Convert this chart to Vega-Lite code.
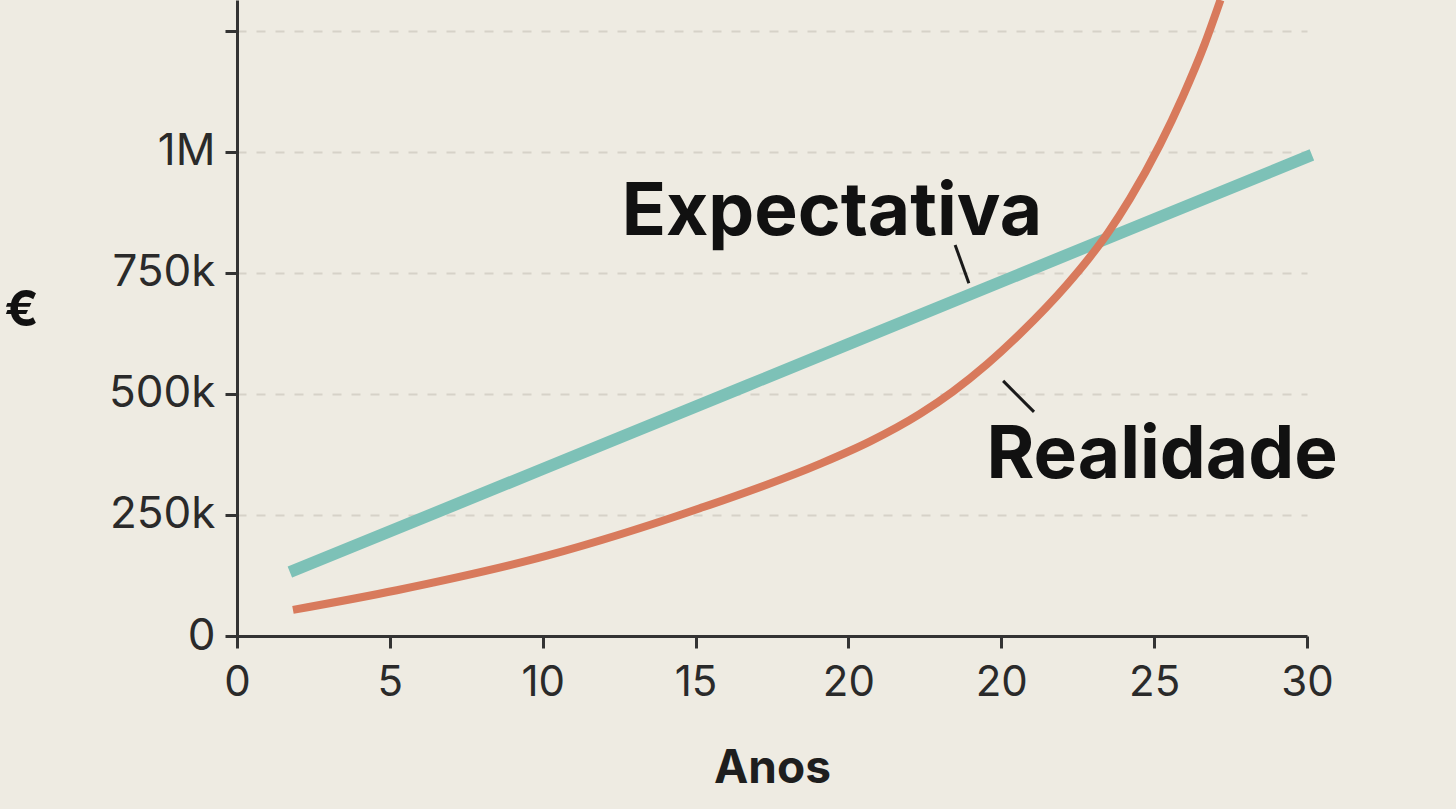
{
  "$schema": "https://vega.github.io/schema/vega-lite/v6.json",
  "width": 1070,
  "height": 636,
  "autosize": "none",
  "padding": {"left": 237, "top": 0, "right": 149, "bottom": 173},
  "background": "#eeebe2",
  "config": {"view": {"stroke": null}, "font": "Inter"},
  "datasets": {
    "linhas": [
      {"serie": "Expectativa", "ano": 1.73, "valor": 132000},
      {"serie": "Expectativa", "ano": 10, "valor": 345000},
      {"serie": "Expectativa", "ano": 20, "valor": 603000},
      {"serie": "Expectativa", "ano": 30, "valor": 861000},
      {"serie": "Expectativa", "ano": 35.16, "valor": 994000},
      {"serie": "Realidade", "ano": 1.83, "valor": 54000},
      {"serie": "Realidade", "ano": 5.23, "valor": 94600},
      {"serie": "Realidade", "ano": 10.14, "valor": 165900},
      {"serie": "Realidade", "ano": 15.14, "valor": 263800},
      {"serie": "Realidade", "ano": 19.07, "valor": 355600},
      {"serie": "Realidade", "ano": 20.71, "valor": 402100},
      {"serie": "Realidade", "ano": 22.34, "valor": 458900},
      {"serie": "Realidade", "ano": 23.42, "valor": 505200},
      {"serie": "Realidade", "ano": 24.53, "valor": 561400},
      {"serie": "Realidade", "ano": 25.61, "valor": 624200},
      {"serie": "Realidade", "ano": 27.15, "valor": 726000},
      {"serie": "Realidade", "ano": 27.9, "valor": 783100},
      {"serie": "Realidade", "ano": 28.49, "valor": 833300},
      {"serie": "Realidade", "ano": 29.21, "valor": 903700},
      {"serie": "Realidade", "ano": 30.19, "valor": 1015300},
      {"serie": "Realidade", "ano": 30.94, "valor": 1115100},
      {"serie": "Realidade", "ano": 31.66, "valor": 1224200},
      {"serie": "Realidade", "ano": 32.17, "valor": 1314000}
    ],
    "rotulos": [
      {"texto": "Expectativa", "ano": 19.46, "valor": 828000},
      {"texto": "Realidade", "ano": 30.26, "valor": 326000}
    ],
    "guias": [
      {"texto": "Expectativa", "ano": 23.49, "valor": 808000, "ano2": 23.94, "valor2": 729000},
      {"texto": "Realidade", "ano": 25.06, "valor": 527000, "ano2": 26.07, "valor2": 463000}
    ]
  },
  "encoding": {
    "x": {
      "field": "ano",
      "type": "quantitative",
      "scale": {"domain": [0, 35], "nice": false},
      "axis": {
        "values": [0, 5, 10, 15, 20, 25, 30, 35],
        "labelExpr": "datum.value == 25 ? '20' : datum.value == 30 ? '25' : datum.value == 35 ? '30' : datum.label",
        "title": "Anos",
        "titleFontSize": 46,
        "titleFontWeight": "bold",
        "titleColor": "#1e1e1e",
        "titleY": 132,
        "titleBaseline": "middle",
        "labelFontSize": 42,
        "labelColor": "#2a2a2a",
        "labelPadding": 14,
        "labelFlush": false,
        "tickSize": 12,
        "tickWidth": 3,
        "tickColor": "#333333",
        "domainColor": "#333333",
        "domainWidth": 3,
        "grid": false
      }
    },
    "y": {
      "field": "valor",
      "type": "quantitative",
      "scale": {"domain": [0, 1314000], "nice": false},
      "axis": {
        "values": [0, 250000, 500000, 750000, 1000000, 1250000],
        "labelExpr": "datum.value == 0 ? '0' : datum.value >= 1250000 ? '' : datum.value >= 1000000 ? '1M' : (datum.value / 1000) + 'k'",
        "title": "€",
        "titleAngle": 0,
        "titleX": -216,
        "titleY": 310,
        "titleAlign": "center",
        "titleBaseline": "middle",
        "titleFontSize": 50,
        "titleFontWeight": "bold",
        "titleColor": "#111111",
        "labelFontSize": 44,
        "labelColor": "#2a2a2a",
        "labelPadding": 10,
        "labelFlush": false,
        "tickSize": 12,
        "tickWidth": 3,
        "tickColor": "#333333",
        "domainColor": "#333333",
        "domainWidth": 3,
        "grid": true,
        "gridColor": "#d6d2c8",
        "gridWidth": 2,
        "gridDash": [9, 10]
      }
    }
  },
  "layer": [
    {
      "data": {"name": "linhas"},
      "mark": {"type": "line", "interpolate": "monotone", "strokeCap": "butt"},
      "encoding": {
        "color": {
          "field": "serie",
          "type": "nominal",
          "scale": {"domain": ["Expectativa", "Realidade"], "range": ["#7dc1b7", "#d87a5c"]},
          "legend": null
        },
        "strokeWidth": {
          "field": "serie",
          "type": "nominal",
          "scale": {"domain": ["Expectativa", "Realidade"], "range": [12, 8]},
          "legend": null
        }
      }
    },
    {
      "data": {"name": "guias"},
      "mark": {"type": "rule", "color": "#1a1a1a", "strokeWidth": 3},
      "encoding": {
        "x2": {"field": "ano2"},
        "y2": {"field": "valor2"}
      }
    },
    {
      "data": {"name": "rotulos"},
      "mark": {"type": "text", "font": "Inter", "fontSize": 73, "fontWeight": "bold", "align": "center", "baseline": "alphabetic", "color": "#111111"},
      "encoding": {
        "text": {"field": "texto", "type": "nominal"}
      }
    }
  ]
}
